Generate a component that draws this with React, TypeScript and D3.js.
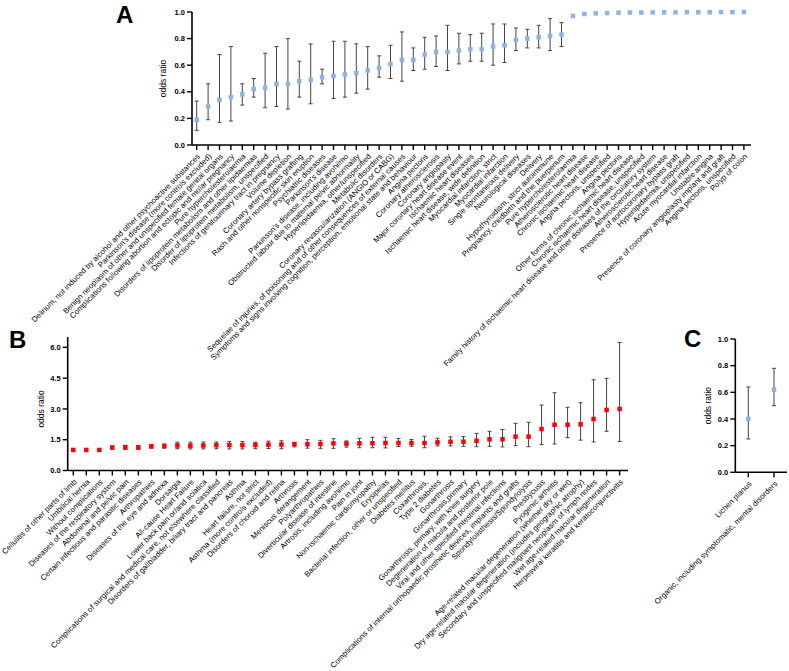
import React from 'react';
import * as d3 from 'd3';

// ---------- Panel A data ----------
const catsA = [
  "Delirium, not induced by alcohol and other psychoactive substances",
  "Parkinson's disease (more controls excluded)",
  "Benign neoplasm of other and unspecified female genital organs",
  "Complications following abortion and ectopic and molar pregnancy",
  "Pure hypercholesterolaemia",
  "Disorders of lipoprotein metabolism and other lipidaemias",
  "Disorder of lipoprotein metabolism, unspecified",
  "Infections of genitourinary tract in pregnancy",
  "Volume depletion",
  "Coronary artery bypass grafting",
  "Rash and other nonspecific skin eruption",
  "Psychiatric diseases",
  "Parkinson's disease",
  "Parkinson's disease, including avohilmo",
  "Obstructed labour due to maternal pelvic abnormality",
  "Hyperlipidaemia, other/unspecified",
  "Metabolic disorders",
  "Coronary revascularization (ANGIO or CABG)",
  "Sequelae of injuries, of poisoning and of other consequences of external causes",
  "Symptoms and signs involving cognition, perception, emotional state and behaviour",
  "Angina pectoris",
  "Coronary atherosclerosis",
  "Coronary angiopasty",
  "Major coronary heart disease event",
  "Ischaemic heart diseases",
  "Ischaemic heart disease, wide definition",
  "Myocardial infarction, strict",
  "Myocardial infarction",
  "Single spontaneous delivery",
  "Neurological diseases",
  "Delivery",
  "Hypothyroidism, strict autoimmune",
  "Pregnancy, childbirth and the puerperium",
  "Pure hypercholesterolaemia",
  "Atherosclerotic heart disease",
  "Chronic ischaemic heart disease",
  "Angina pectoris, unspecified",
  "Angina pectoris",
  "Other forms of chronic ischaemic heart disease",
  "Chronic ischaemic heart disease, unspecified",
  "Family history of ischaemic heart disease and other diseases of the circulatory system",
  "Atherosclerotic heart disease",
  "Presence of aortocoronary bypass graft",
  "Hyperlipidaemia, unspecified",
  "Acute myocardial infarction",
  "Unstable angina",
  "Presence of coronary angioplasty implant and graft",
  "Angina pectoris, unspecified",
  "Polyp of colon",
];
const orA = [0.19, 0.29, 0.34, 0.36, 0.38, 0.42, 0.43, 0.46, 0.46, 0.48, 0.49, 0.51, 0.52, 0.53, 0.54, 0.56, 0.58, 0.61, 0.64, 0.64, 0.68, 0.70, 0.70, 0.71, 0.72, 0.72, 0.74, 0.75, 0.79, 0.80, 0.81, 0.82, 0.83, 0.97, 0.985, 0.99, 0.992, 0.995, 0.996, 0.996, 0.997, 0.997, 0.997, 0.998, 0.998, 0.998, 0.999, 0.999, 0.999];
const loA: (number | null)[] = [0.11, 0.19, 0.17, 0.18, 0.30, 0.36, 0.28, 0.29, 0.27, 0.36, 0.31, 0.46, 0.35, 0.36, 0.39, 0.42, 0.51, 0.50, 0.48, 0.56, 0.57, 0.59, 0.56, 0.61, 0.63, 0.63, 0.60, 0.62, 0.71, 0.73, 0.73, 0.71, 0.74, null, null, null, null, null, null, null, null, null, null, null, null, null, null, null, null];
const hiA: (number | null)[] = [0.33, 0.46, 0.68, 0.74, 0.46, 0.50, 0.69, 0.74, 0.80, 0.63, 0.76, 0.57, 0.78, 0.78, 0.76, 0.74, 0.67, 0.75, 0.85, 0.73, 0.81, 0.82, 0.90, 0.84, 0.83, 0.84, 0.91, 0.91, 0.88, 0.87, 0.90, 0.95, 0.92, null, null, null, null, null, null, null, null, null, null, null, null, null, null, null, null];
const ticksA = [0, 0.2, 0.4, 0.6, 0.8, 1.0];

// ---------- Panel B data ----------
const catsB = [
  "Cellulitis of other parts of limb",
  "Umbilical hernia",
  "Without complications",
  "Diseases of the respiratory system",
  "Abdominal and pelvic pain",
  "Certain infectious and parasitic diseases",
  "Arthropathies",
  "Diseases of the eye and adnexa",
  "Dorsalgia",
  "All-cause Heart Failure",
  "Lower back pain or/and sciatica",
  "Complications of surgical and medical care, not elsewhere classified",
  "Disorders of gallbladder, biliary tract and pancreas",
  "Asthma",
  "Heart failure, not strict",
  "Asthma (more controls excluded)",
  "Disorders of choroid and retina",
  "Arthrosis",
  "Meniscus derangement",
  "Polyarthropathies",
  "Diverticular disease of intestine",
  "Artrosis, including avohilmo",
  "Pain in joint",
  "Non-ischaemic cardiomyopathy",
  "Erysipelas",
  "Bacterial infection, other or unspecified",
  "Diabetes mellitus",
  "Coxarthrosis,",
  "Type 2 diabetes",
  "Gonarthrosis",
  "Gonarthrosis,primary",
  "Gonarthrosis, primary, with knee surgery",
  "Degeneration of macula and posterior pole",
  "Viral and other specified intestinal infections",
  "Complications of internal orthopaedic prosthetic devices, implants and grafts",
  "Spondylolisthesis/Spondylolysis",
  "Presbycusis",
  "Pyogenic arthritis",
  "Age-related macular degeneration (whether dry or wet)",
  "Dry age-related macular degeneration (includes geographic atrophy)",
  "Secondary and unspecified malignant neoplasm of lymph nodes",
  "Wet age-related macular degeneration",
  "Herpesviral keratitis and keratoconjunctivitis",
];
const orB = [1.00, 1.00, 1.00, 1.12, 1.13, 1.12, 1.18, 1.19, 1.22, 1.21, 1.22, 1.23, 1.24, 1.24, 1.24, 1.26, 1.27, 1.28, 1.28, 1.29, 1.32, 1.31, 1.32, 1.33, 1.34, 1.34, 1.34, 1.34, 1.37, 1.40, 1.40, 1.45, 1.52, 1.52, 1.65, 1.65, 2.02, 2.23, 2.23, 2.25, 2.51, 2.95, 3.00];
const loB: (number | null)[] = [null, null, null, 1.05, 1.03, 1.04, 1.09, 1.09, 1.06, 1.05, 1.05, 1.06, 1.05, 1.05, 1.06, 1.07, 1.06, 1.15, 1.09, 1.08, 1.08, 1.14, 1.11, 1.11, 1.10, 1.17, 1.18, 1.11, 1.20, 1.20, 1.18, 1.16, 1.18, 1.15, 1.21, 1.16, 1.26, 1.29, 1.60, 1.48, 1.39, 1.91, 1.41];
const hiB: (number | null)[] = [null, null, null, 1.19, 1.23, 1.22, 1.27, 1.29, 1.38, 1.38, 1.39, 1.39, 1.42, 1.41, 1.38, 1.43, 1.45, 1.37, 1.50, 1.47, 1.55, 1.44, 1.57, 1.62, 1.62, 1.56, 1.51, 1.67, 1.57, 1.64, 1.65, 1.81, 1.91, 2.00, 2.30, 2.35, 3.19, 3.79, 3.08, 3.30, 4.42, 4.49, 6.24];
const ticksB = [0, 1.5, 3.0, 4.5, 6.0];

// ---------- Panel C data ----------
const catsC = ["Lichen planus", "Organic, including symptomatic, mental disorders"];
const orC = [0.40, 0.62];
const loC: (number | null)[] = [0.25, 0.50];
const hiC: (number | null)[] = [0.64, 0.78];
const ticksC = [0, 0.2, 0.4, 0.6, 0.8, 1.0];

const FONT = "'Liberation Sans', Arial, Helvetica, sans-serif";

type PanelProps = {
  letter: string;
  letterX: number;
  letterY: number;
  cats: string[];
  or: number[];
  lo: (number | null)[];
  hi: (number | null)[];
  ticks: number[];
  yMax: number;
  axisX: number;
  axisRight: number;
  firstX: number;
  lastX: number;
  yBottom: number;
  yTop: number;
  yLabelX: number;
  color: string;
  markerSize: number;
};

function Panel(p: PanelProps) {
  const idx = p.cats.map((_, i) => String(i));
  const x = d3.scalePoint<string>().domain(idx).range([p.firstX, p.lastX]).padding(0);
  const y = d3.scaleLinear().domain([0, p.yMax]).range([p.yBottom, p.yTop]);
  const fmt = d3.format('.1f');
  const cap = 2;
  const yMid = (p.yBottom + y(p.ticks[p.ticks.length - 1])) / 2;
  return (
    <g>
      <text x={p.letterX} y={p.letterY} fontFamily={FONT} fontWeight="bold" fontSize={24} fill="#000">{p.letter}</text>
      {/* y axis */}
      <line x1={p.axisX} x2={p.axisX} y1={y(p.yMax)} y2={p.yBottom} stroke="#000" strokeWidth={1.6} />
      {p.ticks.map((t) => (
        <g key={'yt' + t}>
          <line x1={p.axisX - 5} x2={p.axisX} y1={y(t)} y2={y(t)} stroke="#000" strokeWidth={1.4} />
          <text x={p.axisX - 7} y={y(t)} dy="0.35em" textAnchor="end" fontFamily={FONT} fontWeight="bold" fontSize={7.5} fill="#000">{fmt(t)}</text>
        </g>
      ))}
      <text transform={`translate(${p.yLabelX},${yMid}) rotate(-90)`} textAnchor="middle" fontFamily={FONT} fontSize={8.5} fill="#000">odds ratio</text>
      {/* x axis */}
      <line x1={p.axisX} x2={p.axisRight} y1={p.yBottom} y2={p.yBottom} stroke="#000" strokeWidth={1.6} />
      {idx.map((k, i) => (
        <g key={'xt' + i}>
          <line x1={x(k)} x2={x(k)} y1={p.yBottom} y2={p.yBottom + 5} stroke="#000" strokeWidth={1.4} />
          <text transform={`translate(${(x(k) as number) + 2},${p.yBottom + 10}) rotate(-45)`} dy="0.35em" textAnchor="end" fontFamily={FONT} fontSize={7.8} fill="#000">{p.cats[i]}</text>
        </g>
      ))}
      {/* error bars */}
      {idx.map((k, i) => {
        const l = p.lo[i];
        const h = p.hi[i];
        if (l == null || h == null) return null;
        const cx = x(k) as number;
        return (
          <g key={'eb' + i} stroke="#444" strokeWidth={1}>
            <line x1={cx} x2={cx} y1={y(l)} y2={y(h)} />
            <line x1={cx - cap} x2={cx + cap} y1={y(l)} y2={y(l)} />
            <line x1={cx - cap} x2={cx + cap} y1={y(h)} y2={y(h)} />
          </g>
        );
      })}
      {/* points */}
      {idx.map((k, i) => (
        <rect key={'pt' + i} x={(x(k) as number) - p.markerSize / 2} y={y(p.or[i]) - p.markerSize / 2} width={p.markerSize} height={p.markerSize} fill={p.color} />
      ))}
    </g>
  );
}

export default function App() {
  return (
    <div style={{ position: 'absolute', left: 0, top: 0 }}>
      <svg width={789} height={671} viewBox="0 0 789 671" style={{ display: 'block', background: '#fff' }}>
        <rect width={789} height={671} fill="#fff" />
        <Panel letter="A" letterX={116} letterY={22.5} cats={catsA} or={orA} lo={loA} hi={hiA} ticks={ticksA} yMax={1}
          axisX={192} axisRight={751} firstX={196.7} lastX={743.9} yBottom={145} yTop={12} yLabelX={166}
          color="#8DB3E2" markerSize={4.5} />
        <Panel letter="B" letterX={9} letterY={348} cats={catsB} or={orB} lo={loB} hi={hiB} ticks={ticksB} yMax={6.5}
          axisX={67.7} axisRight={628} firstX={73.3} lastX={619.6} yBottom={470.5} yTop={337.1} yLabelX={44}
          color="#FF0000" markerSize={4.5} />
        <Panel letter="C" letterX={684} letterY={347} cats={catsC} or={orC} lo={loC} hi={hiC} ticks={ticksC} yMax={1}
          axisX={735.3} axisRight={787} firstX={748.3} lastX={774} yBottom={472.3} yTop={339} yLabelX={711}
          color="#8DB3E2" markerSize={4.5} />
      </svg>
    </div>
  );
}
